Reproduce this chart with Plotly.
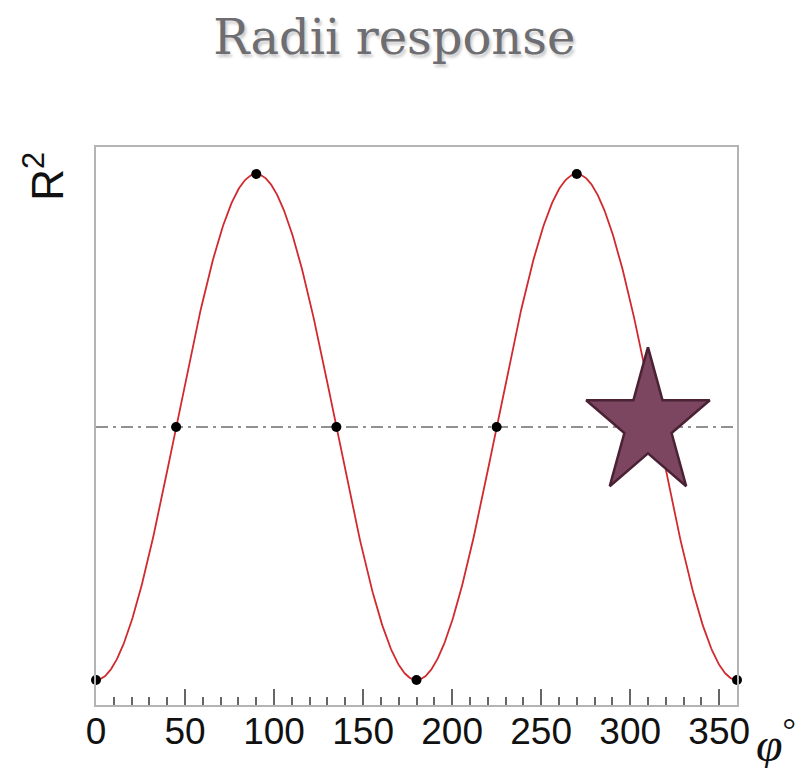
import numpy as np
import plotly.graph_objects as go

# ---- data ----
phi_curve = np.linspace(0, 360, 721)          # degrees
r2_curve = np.sin(np.radians(phi_curve)) ** 2   # R^2 = sin^2(phi)
phi_points = [0, 45, 90, 135, 180, 225, 270, 315, 360]
r2_points = [0.0, 0.5, 1.0, 0.5, 0.0, 0.5, 1.0, 0.5, 0.0]
mid_level = 0.5
star_phi = 310
star_r2 = 0.506
star_rx = 36.5     # horizontal outer radius in degrees
star_ry = 0.152    # vertical outer radius in R^2 units
x_ticks = [0, 50, 100, 150, 200, 250, 300, 350]

# star polygon computed from centre/radii
ang = np.radians(90 + np.arange(11) * 36)
rad = np.array([1 if i % 2 == 0 else 0.382 for i in range(11)])
star_x = star_phi + star_rx * rad * np.cos(ang)
star_y = star_r2 + star_ry * rad * np.sin(ang)

fig = go.Figure()
fig.add_trace(go.Scatter(x=[0, 360], y=[mid_level, mid_level], mode="lines",
                         line=dict(color="#6e6e6e", width=1.6, dash="12px,5px,3px,5px"),
                         hoverinfo="skip"))
fig.add_trace(go.Scatter(x=phi_curve, y=r2_curve, mode="lines",
                         line=dict(color="#d02a2e", width=1.8)))
fig.add_trace(go.Scatter(x=phi_points, y=r2_points, mode="markers",
                         marker=dict(color="black", size=10), cliponaxis=False))
fig.add_trace(go.Scatter(x=star_x, y=star_y, mode="lines", fill="toself",
                         fillcolor="#7c4560", line=dict(color="#4a2234", width=2.5)))

fig.update_layout(
    width=798, height=760,
    margin=dict(l=88, r=69, t=139, b=63),
    paper_bgcolor="white", plot_bgcolor="white",
    showlegend=False,
    title=dict(text="Radii response", x=0.484, xanchor="center", y=0.962, yanchor="middle",
               font=dict(family="DejaVu Serif", size=48, color="#6d6d72",
                         shadow="2px 3px 3px #c8c8c8")),
)
fig.update_xaxes(range=[0, 360], tickvals=x_ticks, ticks="inside", ticklen=16,
                 tickwidth=1.5, tickcolor="#666", automargin=False,
                 ticklabelstandoff=-7,
                 minor=dict(dtick=10, ticks="inside", ticklen=8, tickwidth=1.5, tickcolor="#666"),
                 showgrid=False, zeroline=False,
                 showline=True, mirror=True, linecolor="#b4b4b4", linewidth=2,
                 tickfont=dict(family="Liberation Sans", size=37, color="#111"))
fig.update_yaxes(range=[-0.0494, 1.0534], showticklabels=False, ticks="",
                 showgrid=False, zeroline=False, automargin=False,
                 showline=True, mirror=True, linecolor="#b4b4b4", linewidth=2)

fig.add_annotation(text="R<sup>2</sup>", xref="paper", yref="paper", x=-0.082, y=0.995,
                   xanchor="center", yanchor="top", textangle=-90, showarrow=False,
                   font=dict(family="Liberation Sans", size=44, color="#111"))
fig.add_annotation(text="<i>φ</i><sup>°</sup>", xref="paper", yref="paper", x=1.028, y=-0.064,
                   xanchor="left", yanchor="middle", showarrow=False, borderpad=0,
                   font=dict(family="Liberation Serif", size=48, color="#111"))

fig.write_html("out.html")
